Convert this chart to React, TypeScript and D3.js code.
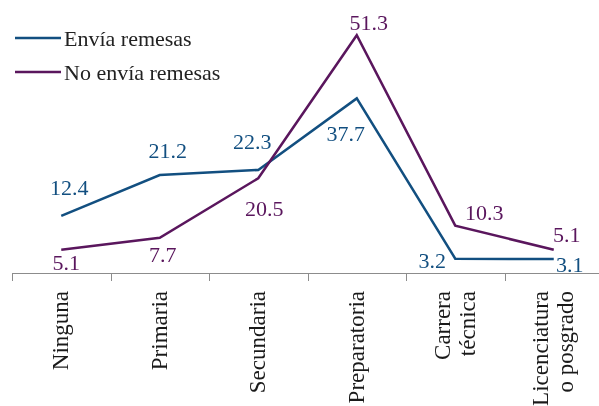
import * as d3 from 'd3'
import { useEffect, useRef } from 'react'

// education levels (lines in each label are split by \n)
const categories = ['Ninguna', 'Primaria', 'Secundaria', 'Preparatoria', 'Carrera\ntécnica', 'Licenciatura\no posgrado']
const enviaValues = [12.4, 21.2, 22.3, 37.7, 3.2, 3.1]
const noEnviaValues = [5.1, 7.7, 20.5, 51.3, 10.3, 5.1]
const seriesNames = ['Envía remesas', 'No envía remesas']

// where each value label sits relative to its point (px)
const enviaLabelOffsets = [[8, -21], [8, -17], [-6, -21], [-11, 43], [-23, 9], [16, 13]]
const noEnviaLabelOffsets = [[5, 20], [3, 24], [6, 38], [12, -5], [29, -6], [13, -8]]

const BLUE = '#124f80'
const PURPLE = '#5a165d'
const FONT = 'Liberation Serif, Times New Roman, DejaVu Serif, serif'

const App = () => {
    const svgRef = useRef(null)

    useEffect(() => {
        const w = 599
        const h = 406
        const svg = d3.select(svgRef.current)
        svg.selectAll('*').remove()
        svg.attr('width', w).attr('height', h)

        const x = d3.scaleBand()
                    .domain(categories)
                    .range([12, 603])
        const y = d3.scaleLinear()
                    .domain([0, 55])
                    .range([273.5, 18])

        const cx = (i) => x(categories[i]) + x.bandwidth() / 2

        // axis
        const axis = svg.append('g')
        axis.append('line')
            .attr('x1', 12).attr('x2', w)
            .attr('y1', 273.5).attr('y2', 273.5)
            .attr('stroke', '#8c8c8c')
            .attr('stroke-width', 1)
        axis.selectAll('.tick')
            .data(categories)
            .join('line')
            .attr('class', 'tick')
            .attr('x1', d => Math.round(x(d)) + 0.5)
            .attr('x2', d => Math.round(x(d)) + 0.5)
            .attr('y1', 273.5)
            .attr('y2', 281)
            .attr('stroke', '#8c8c8c')

        // category labels, rotated
        categories.forEach((c, i) => {
            const lines = c.split('\n')
            const t = svg.append('text')
                         .attr('transform', `translate(${cx(i)}, 291) rotate(-90)`)
                         .attr('text-anchor', 'end')
                         .attr('font-family', FONT)
                         .attr('font-size', 23)
                         .attr('fill', '#1a1a1a')
            const lh = 25
            const first = -((lines.length - 1) * lh) / 2 + 7
            lines.forEach((l, k) => {
                t.append('tspan')
                 .attr('x', 0)
                 .attr('y', first + k * lh)
                 .text(l)
            })
        })

        const line = d3.line()
                       .x((d, i) => cx(i))
                       .y(d => y(d))

        const series = [
            { name: seriesNames[0], values: enviaValues, color: BLUE, offsets: enviaLabelOffsets },
            { name: seriesNames[1], values: noEnviaValues, color: PURPLE, offsets: noEnviaLabelOffsets },
        ]

        series.forEach(s => {
            svg.append('path')
               .datum(s.values)
               .attr('fill', 'none')
               .attr('stroke', s.color)
               .attr('stroke-width', 2.5)
               .attr('d', line)

            svg.append('g')
               .selectAll('text')
               .data(s.values)
               .join('text')
               .attr('x', (d, i) => cx(i) + s.offsets[i][0])
               .attr('y', (d, i) => y(d) + s.offsets[i][1])
               .attr('text-anchor', 'middle')
               .attr('font-family', FONT)
               .attr('font-size', 22)
               .attr('fill', s.color)
               .text(d => d.toFixed(1))
        })

        // legend
        const legend = svg.append('g')
        series.forEach((s, i) => {
            const ly = 38 + i * 34
            legend.append('line')
                  .attr('x1', 15).attr('x2', 61)
                  .attr('y1', ly).attr('y2', ly)
                  .attr('stroke', s.color)
                  .attr('stroke-width', 2.5)
            legend.append('text')
                  .attr('x', 64)
                  .attr('y', ly + 8)
                  .attr('font-family', FONT)
                  .attr('font-size', 22)
                  .attr('fill', '#222')
                  .text(s.name)
        })
    }, [])

    return (
        <svg ref={svgRef} style={{ position: 'fixed', left: 0, top: 0 }} />
    )
}

export default App
